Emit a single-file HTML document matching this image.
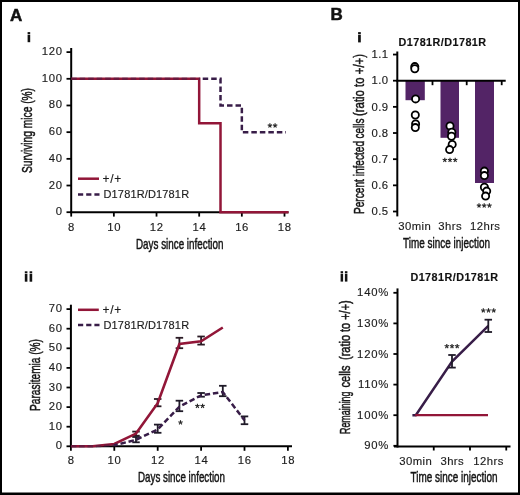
<!DOCTYPE html>
<html><head><meta charset="utf-8"><style>
html,body{margin:0;padding:0;background:#000;}
body{width:520px;height:495px;overflow:hidden;}
svg{display:block;font-family:"Liberation Sans", sans-serif;will-change:transform;}
</style></head><body>
<svg width="520" height="495" viewBox="0 0 520 495">
<rect x="0" y="0" width="520" height="495" fill="#000"/>
<rect x="2" y="2" width="516" height="490.5" fill="#fff"/>
<text x="9.90" y="20.50" font-size="17" text-anchor="start" font-weight="bold" letter-spacing="0" fill="#111" stroke="#111" stroke-width="0.5">A</text>
<rect x="27.6" y="32.1" width="2.6" height="2.10" fill="#111"/>
<rect x="27.6" y="34.8" width="2.6" height="7.40" fill="#111"/>
<line x1="71.20" y1="48.00" x2="71.20" y2="213.20" stroke="#000" stroke-width="2" />
<line x1="70.20" y1="212.20" x2="288.50" y2="212.20" stroke="#000" stroke-width="2" />
<line x1="66.50" y1="212.20" x2="71.20" y2="212.20" stroke="#000" stroke-width="1.8" />
<text x="62.80" y="215.20" font-size="11.3" text-anchor="end" font-weight="normal" letter-spacing="0.7" fill="#1c1c1c" stroke="#1c1c1c" stroke-width="0.15">0</text>
<line x1="66.50" y1="185.52" x2="71.20" y2="185.52" stroke="#000" stroke-width="1.8" />
<text x="62.80" y="188.52" font-size="11.3" text-anchor="end" font-weight="normal" letter-spacing="0.7" fill="#1c1c1c" stroke="#1c1c1c" stroke-width="0.15">20</text>
<line x1="66.50" y1="158.84" x2="71.20" y2="158.84" stroke="#000" stroke-width="1.8" />
<text x="62.80" y="161.84" font-size="11.3" text-anchor="end" font-weight="normal" letter-spacing="0.7" fill="#1c1c1c" stroke="#1c1c1c" stroke-width="0.15">40</text>
<line x1="66.50" y1="132.16" x2="71.20" y2="132.16" stroke="#000" stroke-width="1.8" />
<text x="62.80" y="135.16" font-size="11.3" text-anchor="end" font-weight="normal" letter-spacing="0.7" fill="#1c1c1c" stroke="#1c1c1c" stroke-width="0.15">60</text>
<line x1="66.50" y1="105.48" x2="71.20" y2="105.48" stroke="#000" stroke-width="1.8" />
<text x="62.80" y="108.48" font-size="11.3" text-anchor="end" font-weight="normal" letter-spacing="0.7" fill="#1c1c1c" stroke="#1c1c1c" stroke-width="0.15">80</text>
<line x1="66.50" y1="78.80" x2="71.20" y2="78.80" stroke="#000" stroke-width="1.8" />
<text x="62.80" y="81.80" font-size="11.3" text-anchor="end" font-weight="normal" letter-spacing="0.7" fill="#1c1c1c" stroke="#1c1c1c" stroke-width="0.15">100</text>
<line x1="66.50" y1="52.12" x2="71.20" y2="52.12" stroke="#000" stroke-width="1.8" />
<text x="62.80" y="55.12" font-size="11.3" text-anchor="end" font-weight="normal" letter-spacing="0.7" fill="#1c1c1c" stroke="#1c1c1c" stroke-width="0.15">120</text>
<line x1="71.20" y1="212.20" x2="71.20" y2="216.60" stroke="#000" stroke-width="1.8" />
<text x="71.50" y="230.50" font-size="11.3" text-anchor="middle" font-weight="normal" letter-spacing="0.7" fill="#1c1c1c" stroke="#1c1c1c" stroke-width="0.15">8</text>
<line x1="113.86" y1="212.20" x2="113.86" y2="216.60" stroke="#000" stroke-width="1.8" />
<text x="114.16" y="230.50" font-size="11.3" text-anchor="middle" font-weight="normal" letter-spacing="0.7" fill="#1c1c1c" stroke="#1c1c1c" stroke-width="0.15">10</text>
<line x1="156.52" y1="212.20" x2="156.52" y2="216.60" stroke="#000" stroke-width="1.8" />
<text x="156.82" y="230.50" font-size="11.3" text-anchor="middle" font-weight="normal" letter-spacing="0.7" fill="#1c1c1c" stroke="#1c1c1c" stroke-width="0.15">12</text>
<line x1="199.18" y1="212.20" x2="199.18" y2="216.60" stroke="#000" stroke-width="1.8" />
<text x="199.48" y="230.50" font-size="11.3" text-anchor="middle" font-weight="normal" letter-spacing="0.7" fill="#1c1c1c" stroke="#1c1c1c" stroke-width="0.15">14</text>
<line x1="241.84" y1="212.20" x2="241.84" y2="216.60" stroke="#000" stroke-width="1.8" />
<text x="242.14" y="230.50" font-size="11.3" text-anchor="middle" font-weight="normal" letter-spacing="0.7" fill="#1c1c1c" stroke="#1c1c1c" stroke-width="0.15">16</text>
<line x1="284.50" y1="212.20" x2="284.50" y2="216.60" stroke="#000" stroke-width="1.8" />
<text x="284.80" y="230.50" font-size="11.3" text-anchor="middle" font-weight="normal" letter-spacing="0.7" fill="#1c1c1c" stroke="#1c1c1c" stroke-width="0.15">18</text>
<text x="136.00" y="248.50" font-size="15" text-anchor="start" font-weight="normal" letter-spacing="0" fill="#151515" textLength="87.5" lengthAdjust="spacingAndGlyphs" stroke="#151515" stroke-width="0.5">Days since infection</text>
<text transform="translate(31.8,173) rotate(-90)" font-size="15" stroke="#151515" stroke-width="0.5" textLength="85" lengthAdjust="spacingAndGlyphs" fill="#151515">Surviving mice (%)</text>
<polyline points="71.20,78.80 199.18,78.80 199.18,123.26 220.51,123.26 220.51,212.20 288.50,212.20" fill="none" stroke="#921638" stroke-width="2.5" stroke-linejoin="miter" stroke-linecap="butt" />
<polyline points="71.20,78.80 199.18,78.80" fill="none" stroke="#381d48" stroke-width="2.5" stroke-dasharray="5.5 3" stroke-linejoin="miter" stroke-linecap="butt" stroke-opacity="0.45"/>
<polyline points="199.18,78.80 220.51,78.80 220.51,105.48 241.84,105.48 241.84,132.16 286.00,132.16" fill="none" stroke="#381d48" stroke-width="2.5" stroke-dasharray="5.5 3" stroke-linejoin="miter" stroke-linecap="butt" stroke-dashoffset="123.98"/>
<line x1="269.90" y1="125.60" x2="269.90" y2="123.30" stroke="#222" stroke-width="1.1" />
<line x1="269.90" y1="125.60" x2="272.09" y2="124.89" stroke="#222" stroke-width="1.1" />
<line x1="269.90" y1="125.60" x2="271.25" y2="127.46" stroke="#222" stroke-width="1.1" />
<line x1="269.90" y1="125.60" x2="268.55" y2="127.46" stroke="#222" stroke-width="1.1" />
<line x1="269.90" y1="125.60" x2="267.71" y2="124.89" stroke="#222" stroke-width="1.1" />
<line x1="275.10" y1="125.60" x2="275.10" y2="123.30" stroke="#222" stroke-width="1.1" />
<line x1="275.10" y1="125.60" x2="277.29" y2="124.89" stroke="#222" stroke-width="1.1" />
<line x1="275.10" y1="125.60" x2="276.45" y2="127.46" stroke="#222" stroke-width="1.1" />
<line x1="275.10" y1="125.60" x2="273.75" y2="127.46" stroke="#222" stroke-width="1.1" />
<line x1="275.10" y1="125.60" x2="272.91" y2="124.89" stroke="#222" stroke-width="1.1" />
<line x1="78.00" y1="178.70" x2="99.00" y2="178.70" stroke="#921638" stroke-width="2.5" />
<line x1="78.00" y1="194.50" x2="99.50" y2="194.50" stroke="#381d48" stroke-width="2.5" stroke-dasharray="5.2 3"/>
<text x="102.60" y="182.60" font-size="12" text-anchor="start" font-weight="normal" letter-spacing="0.7" fill="#1c1c1c" stroke="#1c1c1c" stroke-width="0.15">+/+</text>
<text x="103.50" y="198.40" font-size="11" text-anchor="start" font-weight="normal" letter-spacing="0.15" fill="#1c1c1c" stroke="#1c1c1c" stroke-width="0.15">D1781R/D1781R</text>
<rect x="24.8" y="271.3" width="2.6" height="1.90" fill="#111"/>
<rect x="24.8" y="273.8" width="2.6" height="7.90" fill="#111"/>
<rect x="29.6" y="271.3" width="2.6" height="1.90" fill="#111"/>
<rect x="29.6" y="273.8" width="2.6" height="7.90" fill="#111"/>
<line x1="70.90" y1="304.70" x2="70.90" y2="447.30" stroke="#000" stroke-width="2" />
<line x1="69.90" y1="446.30" x2="292.00" y2="446.30" stroke="#000" stroke-width="2" />
<line x1="66.50" y1="446.30" x2="70.90" y2="446.30" stroke="#000" stroke-width="1.8" />
<text x="62.80" y="449.30" font-size="11.3" text-anchor="end" font-weight="normal" letter-spacing="0.7" fill="#1c1c1c" stroke="#1c1c1c" stroke-width="0.15">0</text>
<line x1="66.50" y1="426.70" x2="70.90" y2="426.70" stroke="#000" stroke-width="1.8" />
<text x="62.80" y="429.70" font-size="11.3" text-anchor="end" font-weight="normal" letter-spacing="0.7" fill="#1c1c1c" stroke="#1c1c1c" stroke-width="0.15">10</text>
<line x1="66.50" y1="407.10" x2="70.90" y2="407.10" stroke="#000" stroke-width="1.8" />
<text x="62.80" y="410.10" font-size="11.3" text-anchor="end" font-weight="normal" letter-spacing="0.7" fill="#1c1c1c" stroke="#1c1c1c" stroke-width="0.15">20</text>
<line x1="66.50" y1="387.50" x2="70.90" y2="387.50" stroke="#000" stroke-width="1.8" />
<text x="62.80" y="390.50" font-size="11.3" text-anchor="end" font-weight="normal" letter-spacing="0.7" fill="#1c1c1c" stroke="#1c1c1c" stroke-width="0.15">30</text>
<line x1="66.50" y1="367.90" x2="70.90" y2="367.90" stroke="#000" stroke-width="1.8" />
<text x="62.80" y="370.90" font-size="11.3" text-anchor="end" font-weight="normal" letter-spacing="0.7" fill="#1c1c1c" stroke="#1c1c1c" stroke-width="0.15">40</text>
<line x1="66.50" y1="348.30" x2="70.90" y2="348.30" stroke="#000" stroke-width="1.8" />
<text x="62.80" y="351.30" font-size="11.3" text-anchor="end" font-weight="normal" letter-spacing="0.7" fill="#1c1c1c" stroke="#1c1c1c" stroke-width="0.15">50</text>
<line x1="66.50" y1="328.70" x2="70.90" y2="328.70" stroke="#000" stroke-width="1.8" />
<text x="62.80" y="331.70" font-size="11.3" text-anchor="end" font-weight="normal" letter-spacing="0.7" fill="#1c1c1c" stroke="#1c1c1c" stroke-width="0.15">60</text>
<line x1="66.50" y1="309.10" x2="70.90" y2="309.10" stroke="#000" stroke-width="1.8" />
<text x="62.80" y="312.10" font-size="11.3" text-anchor="end" font-weight="normal" letter-spacing="0.7" fill="#1c1c1c" stroke="#1c1c1c" stroke-width="0.15">70</text>
<line x1="70.90" y1="446.30" x2="70.90" y2="450.80" stroke="#000" stroke-width="1.8" />
<text x="71.20" y="464.20" font-size="11.3" text-anchor="middle" font-weight="normal" letter-spacing="0.7" fill="#1c1c1c" stroke="#1c1c1c" stroke-width="0.15">8</text>
<line x1="114.30" y1="446.30" x2="114.30" y2="450.80" stroke="#000" stroke-width="1.8" />
<text x="114.60" y="464.20" font-size="11.3" text-anchor="middle" font-weight="normal" letter-spacing="0.7" fill="#1c1c1c" stroke="#1c1c1c" stroke-width="0.15">10</text>
<line x1="157.70" y1="446.30" x2="157.70" y2="450.80" stroke="#000" stroke-width="1.8" />
<text x="158.00" y="464.20" font-size="11.3" text-anchor="middle" font-weight="normal" letter-spacing="0.7" fill="#1c1c1c" stroke="#1c1c1c" stroke-width="0.15">12</text>
<line x1="201.10" y1="446.30" x2="201.10" y2="450.80" stroke="#000" stroke-width="1.8" />
<text x="201.40" y="464.20" font-size="11.3" text-anchor="middle" font-weight="normal" letter-spacing="0.7" fill="#1c1c1c" stroke="#1c1c1c" stroke-width="0.15">14</text>
<line x1="244.50" y1="446.30" x2="244.50" y2="450.80" stroke="#000" stroke-width="1.8" />
<text x="244.80" y="464.20" font-size="11.3" text-anchor="middle" font-weight="normal" letter-spacing="0.7" fill="#1c1c1c" stroke="#1c1c1c" stroke-width="0.15">16</text>
<line x1="287.90" y1="446.30" x2="287.90" y2="450.80" stroke="#000" stroke-width="1.8" />
<text x="288.20" y="464.20" font-size="11.3" text-anchor="middle" font-weight="normal" letter-spacing="0.7" fill="#1c1c1c" stroke="#1c1c1c" stroke-width="0.15">18</text>
<text x="138.00" y="481.90" font-size="15" text-anchor="start" font-weight="normal" letter-spacing="0" fill="#151515" textLength="87" lengthAdjust="spacingAndGlyphs" stroke="#151515" stroke-width="0.5">Days since infection</text>
<text transform="translate(40,411) rotate(-90)" font-size="15" stroke="#151515" stroke-width="0.5" textLength="72" lengthAdjust="spacingAndGlyphs" fill="#151515">Parasitemia (%)</text>
<line x1="136.00" y1="431.60" x2="136.00" y2="435.70" stroke="#2a1a24" stroke-width="1.8" />
<line x1="132.25" y1="431.60" x2="139.75" y2="431.60" stroke="#2a1a24" stroke-width="1.8" />
<line x1="132.25" y1="435.70" x2="139.75" y2="435.70" stroke="#2a1a24" stroke-width="1.8" />
<line x1="157.70" y1="399.00" x2="157.70" y2="406.30" stroke="#2a1a24" stroke-width="1.8" />
<line x1="153.95" y1="399.00" x2="161.45" y2="399.00" stroke="#2a1a24" stroke-width="1.8" />
<line x1="153.95" y1="406.30" x2="161.45" y2="406.30" stroke="#2a1a24" stroke-width="1.8" />
<line x1="179.40" y1="337.80" x2="179.40" y2="348.20" stroke="#2a1a24" stroke-width="1.8" />
<line x1="175.65" y1="337.80" x2="183.15" y2="337.80" stroke="#2a1a24" stroke-width="1.8" />
<line x1="175.65" y1="348.20" x2="183.15" y2="348.20" stroke="#2a1a24" stroke-width="1.8" />
<line x1="201.10" y1="336.50" x2="201.10" y2="344.60" stroke="#2a1a24" stroke-width="1.8" />
<line x1="197.35" y1="336.50" x2="204.85" y2="336.50" stroke="#2a1a24" stroke-width="1.8" />
<line x1="197.35" y1="344.60" x2="204.85" y2="344.60" stroke="#2a1a24" stroke-width="1.8" />
<line x1="136.00" y1="437.00" x2="136.00" y2="442.30" stroke="#1f1a28" stroke-width="1.8" />
<line x1="132.25" y1="437.00" x2="139.75" y2="437.00" stroke="#1f1a28" stroke-width="1.8" />
<line x1="132.25" y1="442.30" x2="139.75" y2="442.30" stroke="#1f1a28" stroke-width="1.8" />
<line x1="157.70" y1="424.60" x2="157.70" y2="432.80" stroke="#1f1a28" stroke-width="1.8" />
<line x1="153.95" y1="424.60" x2="161.45" y2="424.60" stroke="#1f1a28" stroke-width="1.8" />
<line x1="153.95" y1="432.80" x2="161.45" y2="432.80" stroke="#1f1a28" stroke-width="1.8" />
<line x1="179.40" y1="400.70" x2="179.40" y2="411.20" stroke="#1f1a28" stroke-width="1.8" />
<line x1="175.65" y1="400.70" x2="183.15" y2="400.70" stroke="#1f1a28" stroke-width="1.8" />
<line x1="175.65" y1="411.20" x2="183.15" y2="411.20" stroke="#1f1a28" stroke-width="1.8" />
<line x1="201.10" y1="393.00" x2="201.10" y2="396.70" stroke="#1f1a28" stroke-width="1.8" />
<line x1="197.35" y1="393.00" x2="204.85" y2="393.00" stroke="#1f1a28" stroke-width="1.8" />
<line x1="197.35" y1="396.70" x2="204.85" y2="396.70" stroke="#1f1a28" stroke-width="1.8" />
<line x1="222.80" y1="385.80" x2="222.80" y2="396.20" stroke="#1f1a28" stroke-width="1.8" />
<line x1="219.05" y1="385.80" x2="226.55" y2="385.80" stroke="#1f1a28" stroke-width="1.8" />
<line x1="219.05" y1="396.20" x2="226.55" y2="396.20" stroke="#1f1a28" stroke-width="1.8" />
<line x1="244.50" y1="416.40" x2="244.50" y2="424.20" stroke="#1f1a28" stroke-width="1.8" />
<line x1="240.75" y1="416.40" x2="248.25" y2="416.40" stroke="#1f1a28" stroke-width="1.8" />
<line x1="240.75" y1="424.20" x2="248.25" y2="424.20" stroke="#1f1a28" stroke-width="1.8" />
<polyline points="70.90,446.30 92.60,446.30 114.30,443.95 136.00,433.56 157.70,403.18 179.40,343.99 201.10,341.24 222.80,327.52" fill="none" stroke="#921638" stroke-width="2.6" stroke-linejoin="miter" stroke-linecap="butt" stroke-linejoin="round"/>
<polyline points="70.90,446.30 92.60,446.30 114.30,445.32" fill="none" stroke="#381d48" stroke-width="2.5" stroke-dasharray="5.5 2.8" stroke-linejoin="miter" stroke-linecap="butt" stroke-opacity="0.45"/>
<polyline points="114.30,445.32 136.00,439.83 157.70,429.44 179.40,406.71 201.10,395.34 222.80,392.01 244.50,420.23" fill="none" stroke="#381d48" stroke-width="2.5" stroke-dasharray="5.5 2.8" stroke-linejoin="miter" stroke-linecap="butt" stroke-dashoffset="43.42"/>
<line x1="180.50" y1="422.50" x2="180.50" y2="420.20" stroke="#222" stroke-width="1.1" />
<line x1="180.50" y1="422.50" x2="182.69" y2="421.79" stroke="#222" stroke-width="1.1" />
<line x1="180.50" y1="422.50" x2="181.85" y2="424.36" stroke="#222" stroke-width="1.1" />
<line x1="180.50" y1="422.50" x2="179.15" y2="424.36" stroke="#222" stroke-width="1.1" />
<line x1="180.50" y1="422.50" x2="178.31" y2="421.79" stroke="#222" stroke-width="1.1" />
<line x1="197.40" y1="406.00" x2="197.40" y2="403.70" stroke="#222" stroke-width="1.1" />
<line x1="197.40" y1="406.00" x2="199.59" y2="405.29" stroke="#222" stroke-width="1.1" />
<line x1="197.40" y1="406.00" x2="198.75" y2="407.86" stroke="#222" stroke-width="1.1" />
<line x1="197.40" y1="406.00" x2="196.05" y2="407.86" stroke="#222" stroke-width="1.1" />
<line x1="197.40" y1="406.00" x2="195.21" y2="405.29" stroke="#222" stroke-width="1.1" />
<line x1="202.60" y1="406.00" x2="202.60" y2="403.70" stroke="#222" stroke-width="1.1" />
<line x1="202.60" y1="406.00" x2="204.79" y2="405.29" stroke="#222" stroke-width="1.1" />
<line x1="202.60" y1="406.00" x2="203.95" y2="407.86" stroke="#222" stroke-width="1.1" />
<line x1="202.60" y1="406.00" x2="201.25" y2="407.86" stroke="#222" stroke-width="1.1" />
<line x1="202.60" y1="406.00" x2="200.41" y2="405.29" stroke="#222" stroke-width="1.1" />
<line x1="78.00" y1="309.80" x2="98.80" y2="309.80" stroke="#921638" stroke-width="2.5" />
<line x1="78.00" y1="325.00" x2="99.50" y2="325.00" stroke="#381d48" stroke-width="2.5" stroke-dasharray="5.2 3"/>
<text x="102.60" y="313.70" font-size="12" text-anchor="start" font-weight="normal" letter-spacing="0.7" fill="#1c1c1c" stroke="#1c1c1c" stroke-width="0.15">+/+</text>
<text x="103.50" y="329.10" font-size="11" text-anchor="start" font-weight="normal" letter-spacing="0.15" fill="#1c1c1c" stroke="#1c1c1c" stroke-width="0.15">D1781R/D1781R</text>
<text x="330.50" y="20.30" font-size="17" text-anchor="start" font-weight="bold" letter-spacing="0" fill="#111" stroke="#111" stroke-width="0.5">B</text>
<rect x="358.1" y="32.1" width="2.7" height="2.10" fill="#111"/>
<rect x="358.1" y="34.8" width="2.7" height="7.60" fill="#111"/>
<text x="398.50" y="45.60" font-size="10.8" text-anchor="start" font-weight="bold" letter-spacing="0.45" fill="#111" stroke="#1c1c1c" stroke-width="0.15">D1781R/D1781R</text>
<line x1="397.30" y1="51.50" x2="397.30" y2="216.40" stroke="#000" stroke-width="2" />
<line x1="393.00" y1="211.50" x2="397.30" y2="211.50" stroke="#000" stroke-width="1.8" />
<text x="388.60" y="215.20" font-size="11.3" text-anchor="end" font-weight="normal" letter-spacing="0.5" fill="#1c1c1c" stroke="#1c1c1c" stroke-width="0.15">0.5</text>
<line x1="393.00" y1="185.34" x2="397.30" y2="185.34" stroke="#000" stroke-width="1.8" />
<text x="388.60" y="189.04" font-size="11.3" text-anchor="end" font-weight="normal" letter-spacing="0.5" fill="#1c1c1c" stroke="#1c1c1c" stroke-width="0.15">0.6</text>
<line x1="393.00" y1="159.18" x2="397.30" y2="159.18" stroke="#000" stroke-width="1.8" />
<text x="388.60" y="162.88" font-size="11.3" text-anchor="end" font-weight="normal" letter-spacing="0.5" fill="#1c1c1c" stroke="#1c1c1c" stroke-width="0.15">0.7</text>
<line x1="393.00" y1="133.02" x2="397.30" y2="133.02" stroke="#000" stroke-width="1.8" />
<text x="388.60" y="136.72" font-size="11.3" text-anchor="end" font-weight="normal" letter-spacing="0.5" fill="#1c1c1c" stroke="#1c1c1c" stroke-width="0.15">0.8</text>
<line x1="393.00" y1="106.86" x2="397.30" y2="106.86" stroke="#000" stroke-width="1.8" />
<text x="388.60" y="110.56" font-size="11.3" text-anchor="end" font-weight="normal" letter-spacing="0.5" fill="#1c1c1c" stroke="#1c1c1c" stroke-width="0.15">0.9</text>
<line x1="393.00" y1="80.70" x2="397.30" y2="80.70" stroke="#000" stroke-width="1.8" />
<text x="388.60" y="84.40" font-size="11.3" text-anchor="end" font-weight="normal" letter-spacing="0.5" fill="#1c1c1c" stroke="#1c1c1c" stroke-width="0.15">1.0</text>
<line x1="393.00" y1="54.54" x2="397.30" y2="54.54" stroke="#000" stroke-width="1.8" />
<text x="388.60" y="58.24" font-size="11.3" text-anchor="end" font-weight="normal" letter-spacing="0.5" fill="#1c1c1c" stroke="#1c1c1c" stroke-width="0.15">1.1</text>
<rect x="405.5" y="80.7" width="19.30" height="19.50" fill="#532466"/>
<rect x="440.5" y="80.7" width="18.50" height="57.10" fill="#532466"/>
<rect x="475" y="80.7" width="19.00" height="102.30" fill="#532466"/>
<line x1="396.30" y1="80.70" x2="505.70" y2="80.70" stroke="#000" stroke-width="2" />
<line x1="432.50" y1="80.70" x2="432.50" y2="85.20" stroke="#000" stroke-width="1.8" />
<line x1="466.70" y1="80.70" x2="466.70" y2="85.20" stroke="#000" stroke-width="1.8" />
<line x1="501.70" y1="80.70" x2="501.70" y2="85.20" stroke="#000" stroke-width="1.8" />
<circle cx="414.8" cy="66.6" r="3.6" fill="#fff" stroke="#000" stroke-width="1.8"/>
<circle cx="414.8" cy="68.7" r="3.6" fill="#fff" stroke="#000" stroke-width="1.8"/>
<circle cx="415.6" cy="98.9" r="3.6" fill="#fff" stroke="#000" stroke-width="1.8"/>
<circle cx="415.3" cy="115" r="3.6" fill="#fff" stroke="#000" stroke-width="1.8"/>
<circle cx="415.6" cy="124" r="3.6" fill="#fff" stroke="#000" stroke-width="1.8"/>
<circle cx="415.3" cy="127.6" r="3.6" fill="#fff" stroke="#000" stroke-width="1.8"/>
<circle cx="450" cy="126" r="3.6" fill="#fff" stroke="#000" stroke-width="1.8"/>
<circle cx="451.8" cy="132.2" r="3.6" fill="#fff" stroke="#000" stroke-width="1.8"/>
<circle cx="451.5" cy="136.2" r="3.6" fill="#fff" stroke="#000" stroke-width="1.8"/>
<circle cx="452.2" cy="144.4" r="3.6" fill="#fff" stroke="#000" stroke-width="1.8"/>
<circle cx="449.6" cy="149.6" r="3.6" fill="#fff" stroke="#000" stroke-width="1.8"/>
<circle cx="484.4" cy="171.1" r="3.6" fill="#fff" stroke="#000" stroke-width="1.8"/>
<circle cx="484.4" cy="175.6" r="3.6" fill="#fff" stroke="#000" stroke-width="1.8"/>
<circle cx="484.4" cy="187.2" r="3.6" fill="#fff" stroke="#000" stroke-width="1.8"/>
<circle cx="486.7" cy="191.1" r="3.6" fill="#fff" stroke="#000" stroke-width="1.8"/>
<circle cx="485.6" cy="196.1" r="3.6" fill="#fff" stroke="#000" stroke-width="1.8"/>
<line x1="444.80" y1="160.00" x2="444.80" y2="157.70" stroke="#222" stroke-width="1.1" />
<line x1="444.80" y1="160.00" x2="446.99" y2="159.29" stroke="#222" stroke-width="1.1" />
<line x1="444.80" y1="160.00" x2="446.15" y2="161.86" stroke="#222" stroke-width="1.1" />
<line x1="444.80" y1="160.00" x2="443.45" y2="161.86" stroke="#222" stroke-width="1.1" />
<line x1="444.80" y1="160.00" x2="442.61" y2="159.29" stroke="#222" stroke-width="1.1" />
<line x1="450.00" y1="160.00" x2="450.00" y2="157.70" stroke="#222" stroke-width="1.1" />
<line x1="450.00" y1="160.00" x2="452.19" y2="159.29" stroke="#222" stroke-width="1.1" />
<line x1="450.00" y1="160.00" x2="451.35" y2="161.86" stroke="#222" stroke-width="1.1" />
<line x1="450.00" y1="160.00" x2="448.65" y2="161.86" stroke="#222" stroke-width="1.1" />
<line x1="450.00" y1="160.00" x2="447.81" y2="159.29" stroke="#222" stroke-width="1.1" />
<line x1="455.20" y1="160.00" x2="455.20" y2="157.70" stroke="#222" stroke-width="1.1" />
<line x1="455.20" y1="160.00" x2="457.39" y2="159.29" stroke="#222" stroke-width="1.1" />
<line x1="455.20" y1="160.00" x2="456.55" y2="161.86" stroke="#222" stroke-width="1.1" />
<line x1="455.20" y1="160.00" x2="453.85" y2="161.86" stroke="#222" stroke-width="1.1" />
<line x1="455.20" y1="160.00" x2="453.01" y2="159.29" stroke="#222" stroke-width="1.1" />
<line x1="479.00" y1="205.60" x2="479.00" y2="203.30" stroke="#222" stroke-width="1.1" />
<line x1="479.00" y1="205.60" x2="481.19" y2="204.89" stroke="#222" stroke-width="1.1" />
<line x1="479.00" y1="205.60" x2="480.35" y2="207.46" stroke="#222" stroke-width="1.1" />
<line x1="479.00" y1="205.60" x2="477.65" y2="207.46" stroke="#222" stroke-width="1.1" />
<line x1="479.00" y1="205.60" x2="476.81" y2="204.89" stroke="#222" stroke-width="1.1" />
<line x1="484.20" y1="205.60" x2="484.20" y2="203.30" stroke="#222" stroke-width="1.1" />
<line x1="484.20" y1="205.60" x2="486.39" y2="204.89" stroke="#222" stroke-width="1.1" />
<line x1="484.20" y1="205.60" x2="485.55" y2="207.46" stroke="#222" stroke-width="1.1" />
<line x1="484.20" y1="205.60" x2="482.85" y2="207.46" stroke="#222" stroke-width="1.1" />
<line x1="484.20" y1="205.60" x2="482.01" y2="204.89" stroke="#222" stroke-width="1.1" />
<line x1="489.40" y1="205.60" x2="489.40" y2="203.30" stroke="#222" stroke-width="1.1" />
<line x1="489.40" y1="205.60" x2="491.59" y2="204.89" stroke="#222" stroke-width="1.1" />
<line x1="489.40" y1="205.60" x2="490.75" y2="207.46" stroke="#222" stroke-width="1.1" />
<line x1="489.40" y1="205.60" x2="488.05" y2="207.46" stroke="#222" stroke-width="1.1" />
<line x1="489.40" y1="205.60" x2="487.21" y2="204.89" stroke="#222" stroke-width="1.1" />
<text x="414.80" y="230.30" font-size="11.3" text-anchor="middle" font-weight="normal" letter-spacing="0.45" fill="#1c1c1c" stroke="#1c1c1c" stroke-width="0.15">30min</text>
<text x="450.20" y="230.30" font-size="11.3" text-anchor="middle" font-weight="normal" letter-spacing="0.45" fill="#1c1c1c" stroke="#1c1c1c" stroke-width="0.15">3hrs</text>
<text x="485.20" y="230.30" font-size="11.3" text-anchor="middle" font-weight="normal" letter-spacing="0.45" fill="#1c1c1c" stroke="#1c1c1c" stroke-width="0.15">12hrs</text>
<text x="403.00" y="248.20" font-size="15" text-anchor="start" font-weight="normal" letter-spacing="0" fill="#151515" textLength="87" lengthAdjust="spacingAndGlyphs" stroke="#151515" stroke-width="0.5">Time since injection</text>
<text transform="translate(364.3,214) rotate(-90)" font-size="15" stroke="#151515" stroke-width="0.5" textLength="73.10" lengthAdjust="spacingAndGlyphs" fill="#151515">Percent infected</text>
<text transform="translate(364.3,138.6) rotate(-90)" font-size="15" stroke="#151515" stroke-width="0.5" textLength="20.00" lengthAdjust="spacingAndGlyphs" fill="#151515">cells</text>
<text transform="translate(364.3,116) rotate(-90)" font-size="15" stroke="#151515" stroke-width="0.5" textLength="62.00" lengthAdjust="spacingAndGlyphs" fill="#151515">(ratio to +/+)</text>
<rect x="340.6" y="271.2" width="2.5" height="1.80" fill="#111"/>
<rect x="340.6" y="273.6" width="2.5" height="8.00" fill="#111"/>
<rect x="344.9" y="271.2" width="2.5" height="1.80" fill="#111"/>
<rect x="344.9" y="273.6" width="2.5" height="8.00" fill="#111"/>
<text x="410.40" y="281.40" font-size="10.8" text-anchor="start" font-weight="bold" letter-spacing="0.45" fill="#111" stroke="#1c1c1c" stroke-width="0.15">D1781R/D1781R</text>
<line x1="397.50" y1="288.40" x2="397.50" y2="447.50" stroke="#000" stroke-width="2" />
<line x1="394.00" y1="446.50" x2="510.50" y2="446.50" stroke="#000" stroke-width="2" />
<line x1="393.40" y1="445.80" x2="397.50" y2="445.80" stroke="#000" stroke-width="1.8" />
<text x="389.20" y="449.40" font-size="11.3" text-anchor="end" font-weight="normal" letter-spacing="0.8" fill="#1c1c1c" stroke="#1c1c1c" stroke-width="0.15">90%</text>
<line x1="393.40" y1="415.20" x2="397.50" y2="415.20" stroke="#000" stroke-width="1.8" />
<text x="389.20" y="418.80" font-size="11.3" text-anchor="end" font-weight="normal" letter-spacing="0.8" fill="#1c1c1c" stroke="#1c1c1c" stroke-width="0.15">100%</text>
<line x1="393.40" y1="384.60" x2="397.50" y2="384.60" stroke="#000" stroke-width="1.8" />
<text x="389.20" y="388.20" font-size="11.3" text-anchor="end" font-weight="normal" letter-spacing="0.8" fill="#1c1c1c" stroke="#1c1c1c" stroke-width="0.15">110%</text>
<line x1="393.40" y1="354.00" x2="397.50" y2="354.00" stroke="#000" stroke-width="1.8" />
<text x="389.20" y="357.60" font-size="11.3" text-anchor="end" font-weight="normal" letter-spacing="0.8" fill="#1c1c1c" stroke="#1c1c1c" stroke-width="0.15">120%</text>
<line x1="393.40" y1="323.40" x2="397.50" y2="323.40" stroke="#000" stroke-width="1.8" />
<text x="389.20" y="327.00" font-size="11.3" text-anchor="end" font-weight="normal" letter-spacing="0.8" fill="#1c1c1c" stroke="#1c1c1c" stroke-width="0.15">130%</text>
<line x1="393.40" y1="292.80" x2="397.50" y2="292.80" stroke="#000" stroke-width="1.8" />
<text x="389.20" y="296.40" font-size="11.3" text-anchor="end" font-weight="normal" letter-spacing="0.8" fill="#1c1c1c" stroke="#1c1c1c" stroke-width="0.15">140%</text>
<line x1="433.75" y1="446.50" x2="433.75" y2="450.50" stroke="#000" stroke-width="1.8" />
<line x1="470.00" y1="446.50" x2="470.00" y2="450.50" stroke="#000" stroke-width="1.8" />
<line x1="506.25" y1="446.50" x2="506.25" y2="450.50" stroke="#000" stroke-width="1.8" />
<text x="415.80" y="464.50" font-size="11.3" text-anchor="middle" font-weight="normal" letter-spacing="0.45" fill="#1c1c1c" stroke="#1c1c1c" stroke-width="0.15">30min</text>
<text x="452.30" y="464.50" font-size="11.3" text-anchor="middle" font-weight="normal" letter-spacing="0.45" fill="#1c1c1c" stroke="#1c1c1c" stroke-width="0.15">3hrs</text>
<text x="488.60" y="464.50" font-size="11.3" text-anchor="middle" font-weight="normal" letter-spacing="0.45" fill="#1c1c1c" stroke="#1c1c1c" stroke-width="0.15">12hrs</text>
<text x="410.50" y="482.40" font-size="15" text-anchor="start" font-weight="normal" letter-spacing="0" fill="#151515" textLength="87" lengthAdjust="spacingAndGlyphs" stroke="#151515" stroke-width="0.5">Time since injection</text>
<text transform="translate(349.5,434) rotate(-90)" font-size="15" stroke="#151515" stroke-width="0.5" textLength="42.50" lengthAdjust="spacingAndGlyphs" fill="#151515">Remaining</text>
<text transform="translate(349.5,387.5) rotate(-90)" font-size="15" stroke="#151515" stroke-width="0.5" textLength="22.10" lengthAdjust="spacingAndGlyphs" fill="#151515">cells</text>
<text transform="translate(349.5,360) rotate(-90)" font-size="15" stroke="#151515" stroke-width="0.5" textLength="59.70" lengthAdjust="spacingAndGlyphs" fill="#151515">(ratio to +/+)</text>
<polyline points="412.40,415.20 415.80,415.20 452.00,361.60 488.30,325.80" fill="none" stroke="#381d48" stroke-width="2.5" stroke-linejoin="miter" stroke-linecap="butt" />
<line x1="415.20" y1="415.20" x2="488.00" y2="415.20" stroke="#921638" stroke-width="2.3" />
<line x1="452.00" y1="355.00" x2="452.00" y2="367.60" stroke="#1f1a28" stroke-width="1.8" />
<line x1="448.25" y1="355.00" x2="455.75" y2="355.00" stroke="#1f1a28" stroke-width="1.8" />
<line x1="448.25" y1="367.60" x2="455.75" y2="367.60" stroke="#1f1a28" stroke-width="1.8" />
<line x1="488.30" y1="319.70" x2="488.30" y2="332.00" stroke="#1f1a28" stroke-width="1.8" />
<line x1="484.55" y1="319.70" x2="492.05" y2="319.70" stroke="#1f1a28" stroke-width="1.8" />
<line x1="484.55" y1="332.00" x2="492.05" y2="332.00" stroke="#1f1a28" stroke-width="1.8" />
<line x1="446.80" y1="346.20" x2="446.80" y2="343.90" stroke="#222" stroke-width="1.1" />
<line x1="446.80" y1="346.20" x2="448.99" y2="345.49" stroke="#222" stroke-width="1.1" />
<line x1="446.80" y1="346.20" x2="448.15" y2="348.06" stroke="#222" stroke-width="1.1" />
<line x1="446.80" y1="346.20" x2="445.45" y2="348.06" stroke="#222" stroke-width="1.1" />
<line x1="446.80" y1="346.20" x2="444.61" y2="345.49" stroke="#222" stroke-width="1.1" />
<line x1="452.00" y1="346.20" x2="452.00" y2="343.90" stroke="#222" stroke-width="1.1" />
<line x1="452.00" y1="346.20" x2="454.19" y2="345.49" stroke="#222" stroke-width="1.1" />
<line x1="452.00" y1="346.20" x2="453.35" y2="348.06" stroke="#222" stroke-width="1.1" />
<line x1="452.00" y1="346.20" x2="450.65" y2="348.06" stroke="#222" stroke-width="1.1" />
<line x1="452.00" y1="346.20" x2="449.81" y2="345.49" stroke="#222" stroke-width="1.1" />
<line x1="457.20" y1="346.20" x2="457.20" y2="343.90" stroke="#222" stroke-width="1.1" />
<line x1="457.20" y1="346.20" x2="459.39" y2="345.49" stroke="#222" stroke-width="1.1" />
<line x1="457.20" y1="346.20" x2="458.55" y2="348.06" stroke="#222" stroke-width="1.1" />
<line x1="457.20" y1="346.20" x2="455.85" y2="348.06" stroke="#222" stroke-width="1.1" />
<line x1="457.20" y1="346.20" x2="455.01" y2="345.49" stroke="#222" stroke-width="1.1" />
<line x1="483.30" y1="310.50" x2="483.30" y2="308.20" stroke="#222" stroke-width="1.1" />
<line x1="483.30" y1="310.50" x2="485.49" y2="309.79" stroke="#222" stroke-width="1.1" />
<line x1="483.30" y1="310.50" x2="484.65" y2="312.36" stroke="#222" stroke-width="1.1" />
<line x1="483.30" y1="310.50" x2="481.95" y2="312.36" stroke="#222" stroke-width="1.1" />
<line x1="483.30" y1="310.50" x2="481.11" y2="309.79" stroke="#222" stroke-width="1.1" />
<line x1="488.50" y1="310.50" x2="488.50" y2="308.20" stroke="#222" stroke-width="1.1" />
<line x1="488.50" y1="310.50" x2="490.69" y2="309.79" stroke="#222" stroke-width="1.1" />
<line x1="488.50" y1="310.50" x2="489.85" y2="312.36" stroke="#222" stroke-width="1.1" />
<line x1="488.50" y1="310.50" x2="487.15" y2="312.36" stroke="#222" stroke-width="1.1" />
<line x1="488.50" y1="310.50" x2="486.31" y2="309.79" stroke="#222" stroke-width="1.1" />
<line x1="493.70" y1="310.50" x2="493.70" y2="308.20" stroke="#222" stroke-width="1.1" />
<line x1="493.70" y1="310.50" x2="495.89" y2="309.79" stroke="#222" stroke-width="1.1" />
<line x1="493.70" y1="310.50" x2="495.05" y2="312.36" stroke="#222" stroke-width="1.1" />
<line x1="493.70" y1="310.50" x2="492.35" y2="312.36" stroke="#222" stroke-width="1.1" />
<line x1="493.70" y1="310.50" x2="491.51" y2="309.79" stroke="#222" stroke-width="1.1" />
</svg></body></html>
